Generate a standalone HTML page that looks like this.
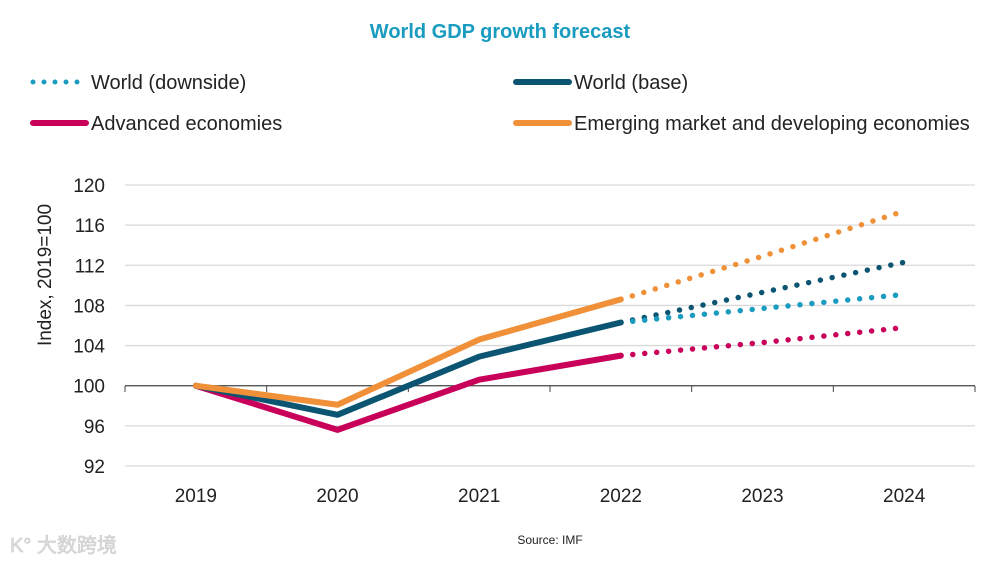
<!DOCTYPE html>
<html><head><meta charset="utf-8"><style>
body{margin:0;background:#fff;font-family:"Liberation Sans","Noto Sans CJK SC",sans-serif;}
#wrap{position:relative;width:1000px;height:562px;overflow:hidden;background:#fff;}
</style></head><body>
<div id="wrap">
<svg id="chart" width="1000" height="562"></svg>
</div>
<script>
const categories=["2019","2020","2021","2022","2023","2024"];
const yTicks=[92,96,100,104,108,112,116,120];
const worldBaseActual=[100,97.1,102.9,106.3];
const worldBaseForecast=[106.3,109.3,112.3];
const worldDownsideForecast=[106.3,107.7,109.1];
const advancedActual=[100,95.6,100.6,103.0];
const advancedForecast=[103.0,104.3,105.8];
const emergingActual=[100,98.1,104.6,108.6];
const emergingForecast=[108.6,112.9,117.4];

const NS="http://www.w3.org/2000/svg";
const svg=document.getElementById('chart');
const L=125,R=975,T=185,B=466,yMin=92,yMax=120;
function xs(i){return L+(R-L)/categories.length*(i+0.5);}
function ys(v){return B-(v-yMin)/(yMax-yMin)*(B-T);}
function mk(tag,attrs,parent){const e=document.createElementNS(NS,tag);for(const k in attrs)e.setAttribute(k,attrs[k]);(parent||svg).appendChild(e);return e;}

const title=mk('text',{x:500,y:38,'text-anchor':'middle','font-size':20,'font-weight':'bold',fill:'#1a9bc0'});


title.textContent='World GDP growth forecast';

const legendItems=[
 {label:'World (downside)',color:'#1a9bc0',dot:true,x:30,y:82,name:'legend-world-downside'},
 {label:'World (base)',color:'#0b5572',dot:false,x:513,y:82,name:'legend-world-base'},
 {label:'Advanced economies',color:'#c8005a',dot:false,x:30,y:123,name:'legend-advanced'},
 {label:'Emerging market and developing economies',color:'#f0913a',dot:false,x:513,y:123,name:'legend-emerging'}];
legendItems.forEach(it=>{
 const g=mk('g',{});
 
 
 mk('line',{x1:it.x+3,y1:it.y,x2:it.x+56,y2:it.y,stroke:it.color,'stroke-width':it.dot?5:6,'stroke-linecap':'round','stroke-dasharray':it.dot?'0 11':'none'},g);
 const t=mk('text',{x:it.x+61,y:it.y+7,'font-size':20,fill:'#222'},g);
 t.textContent=it.label;
});

yTicks.forEach(v=>{
 const ln=mk('line',{x1:L,x2:R,y1:ys(v),y2:ys(v),stroke:v===100?'#444':'#d9d9d9','stroke-width':v===100?1.2:1.3});
 
 
 const t=mk('text',{x:105,y:ys(v)+7,'text-anchor':'end','font-size':19,fill:'#222'});
 
 
 t.textContent=v;
});
mk('line',{x1:L,x2:L,y1:386,y2:392,stroke:'#444'});
for(let i=0;i<=categories.length;i++){mk('line',{x1:L+(R-L)/6*i,x2:L+(R-L)/6*i,y1:386,y2:392,stroke:'#444'});}
categories.forEach((c,i)=>{
 const t=mk('text',{x:xs(i),y:502,'text-anchor':'middle','font-size':19,fill:'#222'});
 
 
 t.textContent=c;
});
const yt=mk('text',{x:0,y:0,'text-anchor':'middle','font-size':19,fill:'#222',transform:'translate(51,275) rotate(-90)'});


yt.textContent='Index, 2019=100';

function series(vals,start,color,dotted,name){
 const pts=vals.map((v,i)=>xs(i+start)+','+ys(v)).join(' ');
 const p=mk('polyline',{points:pts,fill:'none',stroke:color,'stroke-width':dotted?5.5:6,'stroke-linecap':'round','stroke-linejoin':'round','stroke-dasharray':dotted?'0 12':'none'});
 
 
}
series(emergingForecast,3,'#f0913a',true,'emerging-forecast-line');
series(worldBaseForecast,3,'#0b5572',true,'world-base-forecast-line');
series(worldDownsideForecast,3,'#1a9bc0',true,'world-downside-line');
series(advancedForecast,3,'#c8005a',true,'advanced-forecast-line');
series(advancedActual,0,'#c8005a',false,'advanced-line');
series(worldBaseActual,0,'#0b5572',false,'world-base-line');
series(emergingActual,0,'#f0913a',false,'emerging-line');

const src=mk('text',{x:550,y:544,'text-anchor':'middle','font-size':12,fill:'#222'});


src.textContent='Source: IMF';
const wm=mk('text',{x:10,y:552,'font-size':20,fill:'#ddd',stroke:'#ccc','stroke-width':0.6});


wm.textContent='K° 大数跨境';
</script>
</body></html>
